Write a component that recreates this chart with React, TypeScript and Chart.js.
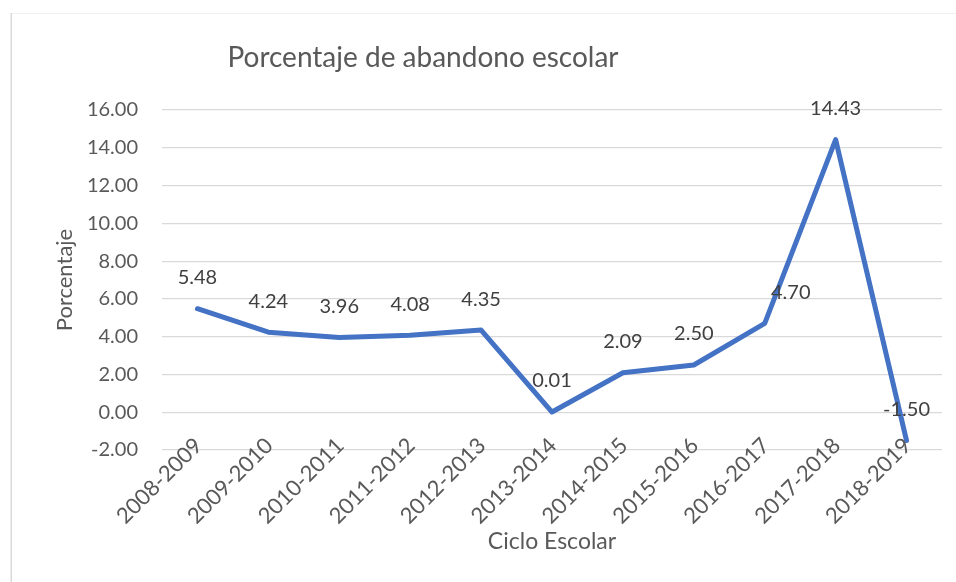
import React, { useEffect, useRef } from "react";
import { Chart, registerables } from "chart.js";

Chart.register(...registerables);

const categories = [
  "2008-2009", "2009-2010", "2010-2011", "2011-2012", "2012-2013", "2013-2014",
  "2014-2015", "2015-2016", "2016-2017", "2017-2018", "2018-2019",
];
const abandono = [5.48, 4.24, 3.96, 4.08, 4.35, 0.01, 2.09, 2.5, 4.7, 14.43, -1.5];
const yTicks = [-2, 0, 2, 4, 6, 8, 10, 12, 14, 16];
const chartTitle = "Porcentaje de abandono escolar";

const FONT = "Lato, 'Open Sans', sans-serif";
const TEXT = "#595959";

const frame = {
  id: "frame",
  beforeDraw(chart: any) {
    const ctx = chart.ctx;
    ctx.save();
    ctx.fillStyle = "#ffffff";
    ctx.fillRect(0, 0, chart.width, chart.height);
    ctx.strokeStyle = "#F0F0F0";
    ctx.lineWidth = 1;
    ctx.beginPath();
    ctx.moveTo(11, 13.5);
    ctx.lineTo(chart.width, 13.5);
    ctx.stroke();
    ctx.strokeStyle = "#D9D9D9";
    ctx.lineWidth = 1.5;
    ctx.beginPath();
    ctx.moveTo(11.25, 13);
    ctx.lineTo(11.25, chart.height);
    ctx.stroke();
    ctx.restore();
  },
  afterDraw(chart: any, _a: any, opts: any) {
    const ctx = chart.ctx;
    ctx.save();
    ctx.font = `28px ${FONT}`;
    ctx.fillStyle = TEXT;
    ctx.textAlign = "center";
    ctx.textBaseline = "middle";
    ctx.fillText(opts.text, opts.x, opts.y);
    ctx.restore();
  },
};

// rotated category labels, drawn from the x scale's own tick positions
const xLabels = {
  id: "xLabels",
  afterDraw(chart: any) {
    const ctx = chart.ctx;
    const xs = chart.scales.x;
    const y0 = chart.chartArea.bottom - 8;
    ctx.save();
    ctx.font = `22px ${FONT}`;
    ctx.fillStyle = TEXT;
    ctx.textAlign = "right";
    ctx.textBaseline = "middle";
    xs.ticks.forEach((_t: any, i: number) => {
      const x = xs.getPixelForTick(i) + 1;
      ctx.save();
      ctx.translate(x, y0);
      ctx.rotate(-Math.PI / 4);
      ctx.fillText(String(chart.data.labels[i]), 0, 0);
      ctx.restore();
    });
    ctx.restore();
  },
};

const dataLabels = {
  id: "dataLabels",
  afterDatasetsDraw(chart: any, _args: any, opts: any) {
    const ctx = chart.ctx;
    const meta = chart.getDatasetMeta(0);
    const ds = chart.data.datasets[0];
    ctx.save();
    ctx.font = `20px ${FONT}`;
    ctx.fillStyle = "#404040";
    ctx.textAlign = "center";
    ctx.textBaseline = "middle";
    meta.data.forEach((pt: any, i: number) => {
      const dx = (opts.dx && opts.dx[i]) || 0;
      const v = ds.data[i] as number;
      ctx.fillText(v.toFixed(2), pt.x + dx, pt.y - 31);
    });
    ctx.restore();
  },
};

export default function App() {
  const ref = useRef<HTMLCanvasElement | null>(null);
  useEffect(() => {
    if (!ref.current) return;
    const chart = new Chart(ref.current, {
      type: "line",
      data: {
        labels: categories,
        datasets: [
          {
            label: "Porcentaje",
            data: abandono,
            borderColor: "#4472C4",
            backgroundColor: "#4472C4",
            borderWidth: 5,
            pointRadius: 0,
            tension: 0,
            borderJoinStyle: "round",
            borderCapStyle: "round",
          },
        ],
      },
      plugins: [frame, xLabels, dataLabels],
      options: {
        animation: false,
        responsive: false,
        maintainAspectRatio: false,
        layout: { padding: { left: 40, right: 14, top: 110, bottom: 16 } },
        plugins: {
          legend: { display: false },
          tooltip: { enabled: false },
          title: { display: false },
          frame: { text: chartTitle, x: 423, y: 58 },
          dataLabels: { dx: { 8: 26 } },
        } as any,
        scales: {
          x: {
            type: "category",
            offset: true,
            grid: { display: false },
            border: { display: false },
            ticks: { display: false, autoSkip: false },
            title: {
              display: true,
              text: "Ciclo Escolar",
              color: TEXT,
              font: { family: FONT, size: 23, lineHeight: 1.2 },
              padding: { top: 0, bottom: 11 },
            },
            afterFit: (s: any) => {
              s.height = 116;
            },
          },
          y: {
            min: -2,
            max: 16,
            afterBuildTicks: (s: any) => {
              s.ticks = yTicks.map((v) => ({ value: v }));
            },
            grid: { color: "#D9D9D9", lineWidth: 1.2, drawTicks: false },
            border: { display: false },
            ticks: {
              color: TEXT,
              font: { family: FONT, size: 20 },
              padding: 24,
              callback: (v: any) => Number(v).toFixed(2),
            },
            title: {
              display: true,
              text: "Porcentaje",
              color: TEXT,
              font: { family: FONT, size: 22, lineHeight: 1.2 },
              padding: { top: 12, bottom: 0 },
            },
            afterFit: (s: any) => {
              s.width = 122;
            },
          },
        },
      },
    });
    return () => chart.destroy();
  }, []);
  return (
    <div style={{ position: "fixed", left: 0, top: 0, width: 956, height: 582, background: "#fff" }}>
      <canvas ref={ref} width={956} height={582} style={{ display: "block" }} />
    </div>
  );
}
